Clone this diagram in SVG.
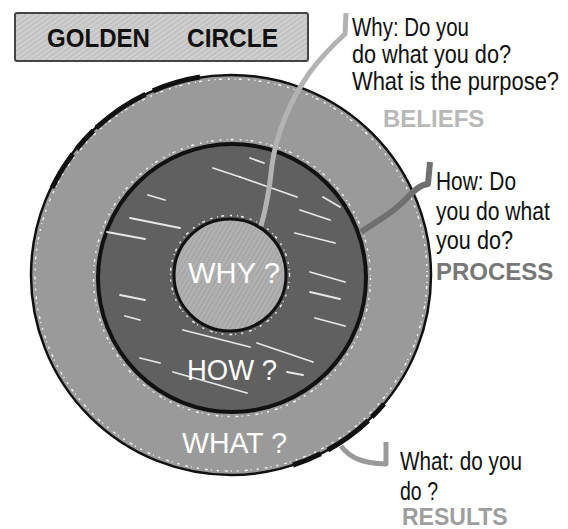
<svg xmlns="http://www.w3.org/2000/svg" width="568" height="529" viewBox="0 0 568 529">
<defs>
<pattern id="boxHatch" width="4" height="4" patternUnits="userSpaceOnUse" patternTransform="rotate(-35)">
<rect width="4" height="4" fill="#c3c3c3"/>
<line x1="0" y1="1" x2="4" y2="1" stroke="#e2e2e2" stroke-width="0.8"/>
</pattern>
<pattern id="whyHatch" width="4" height="4" patternUnits="userSpaceOnUse" patternTransform="rotate(-60)">
<rect width="4" height="4" fill="#a7a7a7"/>
<line x1="0" y1="1" x2="4" y2="1" stroke="#c4c4c4" stroke-width="0.7"/>
</pattern>
</defs>
<style>
.hand{font-family:"Liberation Sans","DejaVu Sans",sans-serif;font-size:22px;fill:#111;}
.inner{font-family:"Liberation Sans","DejaVu Sans",sans-serif;font-size:29px;fill:#fff;}
.tag{font-family:"Liberation Sans","DejaVu Sans",sans-serif;font-size:24px;font-weight:bold;}
.title{font-family:"Liberation Sans","DejaVu Sans",sans-serif;font-size:26px;font-weight:bold;fill:#111;}
.fringe{fill:none;stroke:#fff;stroke-width:1.4;stroke-dasharray:2 5 1 3 3 6;opacity:0.9;}
.streak{stroke:#fff;stroke-width:1.8;stroke-linecap:round;opacity:0.85;}
.conn{fill:none;stroke-linejoin:round;}
</style>

<g id="title">
<rect x="15" y="13" width="293" height="48" rx="2" fill="url(#boxHatch)" stroke="#444" stroke-width="2"/>
<text class="title" x="47" y="47" textLength="103" lengthAdjust="spacingAndGlyphs">GOLDEN</text>
<text class="title" x="187" y="47" textLength="91" lengthAdjust="spacingAndGlyphs">CIRCLE</text>
</g>

<g id="what">
<circle cx="231" cy="275" r="200" fill="#9a9a9a" stroke="#111" stroke-width="2.5"/>
<circle class="fringe" cx="231" cy="275" r="196"/>
<path d="M52,188 A200,200 0 0 1 200,77" fill="none" stroke="#111" stroke-width="5" stroke-dasharray="40 6 25 4 60 8 90"/>
<path d="M293,465 A200,200 0 0 0 384,404" fill="none" stroke="#111" stroke-width="5" stroke-dasharray="30 8 50 5 40"/>
<text class="inner" x="182" y="453" textLength="105" lengthAdjust="spacingAndGlyphs">WHAT ?</text>
</g>

<g id="how">
<circle cx="232" cy="278" r="134" fill="#606060" stroke="#111" stroke-width="4"/>
<circle class="fringe" cx="232" cy="278" r="138.5"/>
<line class="streak" x1="240" y1="177" x2="297" y2="197"/>
<line class="streak" x1="213" y1="168" x2="240" y2="177"/>
<line class="streak" x1="250" y1="158" x2="264" y2="163"/>
<line class="streak" x1="148" y1="195" x2="165" y2="200"/>
<line class="streak" x1="130" y1="218" x2="180" y2="228"/>
<line class="streak" x1="107" y1="232" x2="145" y2="239"/>
<line class="streak" x1="300" y1="210" x2="330" y2="220"/>
<line class="streak" x1="323" y1="197" x2="340" y2="207"/>
<line class="streak" x1="295" y1="233" x2="335" y2="243"/>
<line class="streak" x1="310" y1="272" x2="345" y2="282"/>
<line class="streak" x1="310" y1="292" x2="340" y2="299"/>
<line class="streak" x1="120" y1="295" x2="145" y2="300"/>
<line class="streak" x1="125" y1="316" x2="140" y2="320"/>
<line class="streak" x1="315" y1="318" x2="345" y2="326"/>
<line class="streak" x1="183" y1="330" x2="250" y2="347"/>
<line class="streak" x1="257" y1="343" x2="313" y2="362"/>
<line class="streak" x1="140" y1="358" x2="160" y2="363"/>
<line class="streak" x1="173" y1="372" x2="247" y2="393"/>
<line class="streak" x1="287" y1="372" x2="303" y2="375"/>
<text class="inner" x="187" y="380" textLength="90" lengthAdjust="spacingAndGlyphs">HOW ?</text>
</g>

<g id="why">
<circle cx="230" cy="275" r="56" fill="url(#whyHatch)"/>
<circle cx="230" cy="275" r="56" fill="none" stroke="#111" stroke-width="3"/>
<circle class="fringe" cx="230" cy="275" r="59.5"/>
<text class="inner" x="188" y="283" textLength="92" lengthAdjust="spacingAndGlyphs">WHY ?</text>
</g>

<g id="connectors">
<path class="conn" d="M261,226 C267,205 270,185 272,165 C276,135 290,100 310,72 C322,56 333,45 345,34 L346,13" stroke="#b3b3b3" stroke-width="5"/>
<path class="conn" d="M361,232 C375,222 392,214 405,200 C413,192 419,185 428,184 L430,162" stroke="#707070" stroke-width="6"/>
<path class="conn" d="M341,446 C350,458 362,463 386,464 L386,442" stroke="#9a9a9a" stroke-width="5"/>
</g>

<g id="why-label">
<text class="hand" transform="translate(352,36) scale(1,1.2)" textLength="117" lengthAdjust="spacingAndGlyphs">Why: Do you</text>
<text class="hand" transform="translate(352,63) scale(1,1.2)" textLength="159" lengthAdjust="spacingAndGlyphs">do what you do?</text>
<text class="hand" transform="translate(352,90) scale(1,1.2)" textLength="207" lengthAdjust="spacingAndGlyphs">What is the purpose?</text>
<text class="tag" x="383" y="127" fill="#b8b8b8">BELIEFS</text>
</g>

<g id="how-label">
<text class="hand" transform="translate(436,190) scale(1,1.2)" textLength="80" lengthAdjust="spacingAndGlyphs">How: Do</text>
<text class="hand" transform="translate(436,220) scale(1,1.2)" textLength="114" lengthAdjust="spacingAndGlyphs">you do what</text>
<text class="hand" transform="translate(436,249) scale(1,1.2)" textLength="77" lengthAdjust="spacingAndGlyphs">you do?</text>
<text class="tag" x="436" y="280" fill="#777">PROCESS</text>
</g>

<g id="what-label">
<text class="hand" transform="translate(400,470) scale(1,1.2)" textLength="122" lengthAdjust="spacingAndGlyphs">What: do you</text>
<text class="hand" transform="translate(400,500) scale(1,1.2)" textLength="38" lengthAdjust="spacingAndGlyphs">do ?</text>
<text class="tag" x="402" y="525" fill="#9e9e9e" style="font-size:23px">RESULTS</text>
</g>
</svg>
